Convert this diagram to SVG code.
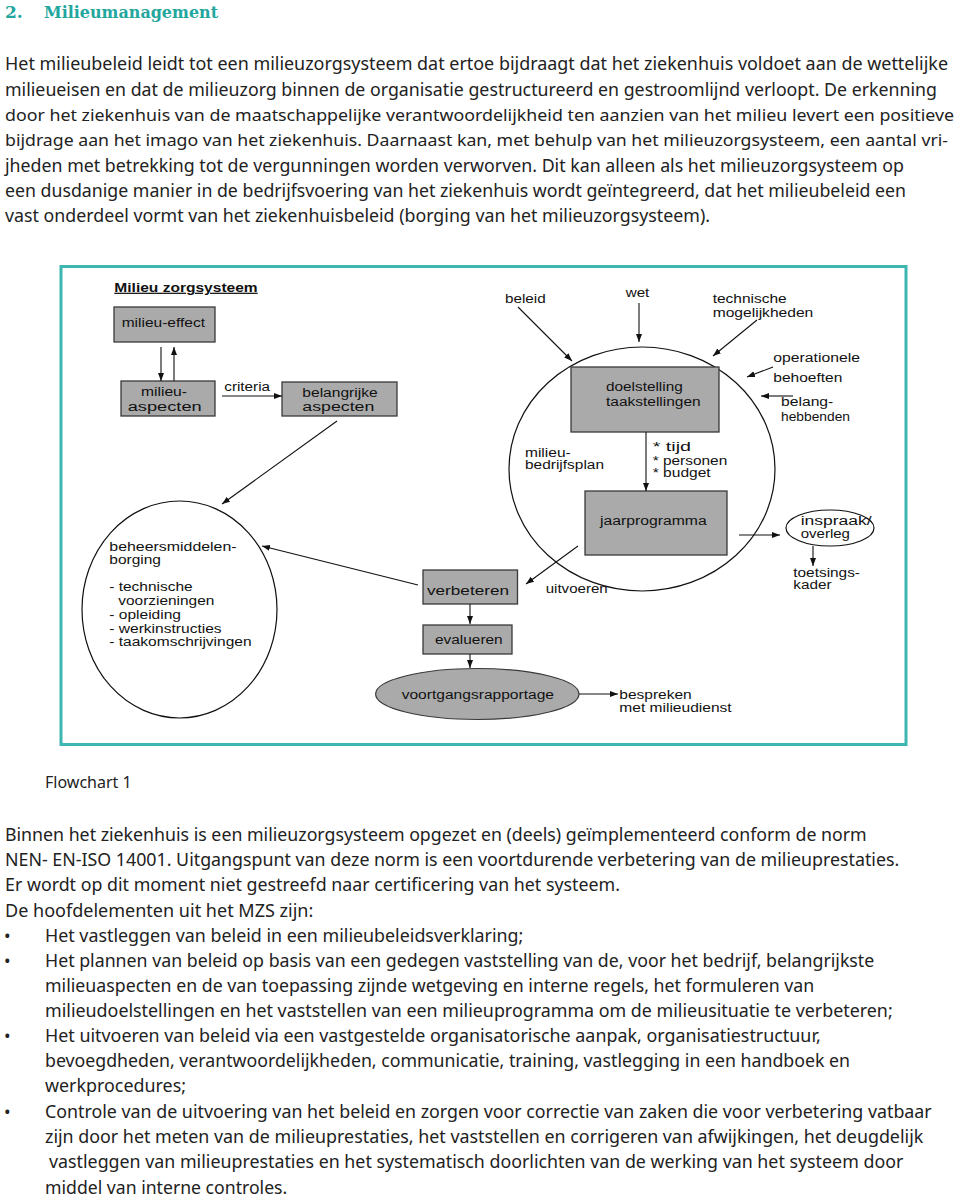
<svg xmlns="http://www.w3.org/2000/svg" width="960" height="1203" viewBox="0 0 960 1203">
<defs>
<style>
.body{font-family:"Noto Sans","Open Sans",sans-serif;font-size:17.5px;fill:#222}
.title{font-family:"DejaVu Serif",serif;font-weight:bold;font-size:17px;fill:#22a69e}
.lbl{font-family:"Liberation Sans",Arial,sans-serif;font-size:12.5px;fill:#111}
.box{fill:#aaaaaa;stroke:#3a3a3a;stroke-width:1.3}
.ring{fill:none;stroke:#111;stroke-width:1.2}
.con{fill:none;stroke:#111;stroke-width:1.1;marker-end:url(#ah)}
</style>
<marker id="ah" markerUnits="userSpaceOnUse" markerWidth="9" markerHeight="7" refX="8" refY="3" orient="auto">
<path d="M0,0 L8,3 L0,6 z" fill="#111"/>
</marker>
</defs>
<rect width="960" height="1203" fill="#fff"/>

<g id="heading">
<text class="title" x="5" y="18">2.</text>
<text class="title" x="44" y="18" textLength="174" lengthAdjust="spacingAndGlyphs">Milieumanagement</text>
</g>

<g id="intro" class="body">
<text x="5" y="70" textLength="943" lengthAdjust="spacingAndGlyphs">Het milieubeleid leidt tot een milieuzorgsysteem dat ertoe bijdraagt dat het ziekenhuis voldoet aan de wettelijke</text>
<text x="5" y="95.5" textLength="932" lengthAdjust="spacingAndGlyphs">milieueisen en dat de milieuzorg binnen de organisatie gestructureerd en gestroomlijnd verloopt. De erkenning</text>
<text x="5" y="120.8" font-size="17" textLength="949" lengthAdjust="spacingAndGlyphs">door het ziekenhuis van de maatschappelijke verantwoordelijkheid ten aanzien van het milieu levert een positieve</text>
<text x="5" y="146" font-size="17" textLength="943" lengthAdjust="spacingAndGlyphs">bijdrage aan het imago van het ziekenhuis. Daarnaast kan, met behulp van het milieuzorgsysteem, een aantal vri-</text>
<text x="5" y="171.5" textLength="899" lengthAdjust="spacingAndGlyphs">jheden met betrekking tot de vergunningen worden verworven. Dit kan alleen als het milieuzorgsysteem op</text>
<text x="5" y="196.8" textLength="901" lengthAdjust="spacingAndGlyphs">een dusdanige manier in de bedrijfsvoering van het ziekenhuis wordt geïntegreerd, dat het milieubeleid een</text>
<text x="5" y="222" textLength="705" lengthAdjust="spacingAndGlyphs">vast onderdeel vormt van het ziekenhuisbeleid (borging van het milieuzorgsysteem).</text>
</g>

<rect id="frame" x="61" y="266.5" width="845" height="478" fill="none" stroke="#3db5b0" stroke-width="3"/>

<g id="diagram-title">
<text class="lbl" x="114.3" y="291.7" font-weight="bold" text-decoration="underline" textLength="143.4" lengthAdjust="spacingAndGlyphs">Milieu zorgsysteem</text>
</g>

<g id="planning-circle"><ellipse class="ring" cx="642" cy="469" rx="133" ry="122"/></g>
<g id="beheer-circle">
<ellipse class="ring" cx="179.5" cy="609.5" rx="97.5" ry="108.5"/>
<text class="lbl" x="109.3" y="550.7" textLength="127.3" lengthAdjust="spacingAndGlyphs">beheersmiddelen-</text>
<text class="lbl" x="109.3" y="564" textLength="51.7" lengthAdjust="spacingAndGlyphs">borging</text>
<text class="lbl" x="109.3" y="591.3" textLength="83.3" lengthAdjust="spacingAndGlyphs">- technische</text>
<text class="lbl" x="118.3" y="605" textLength="96" lengthAdjust="spacingAndGlyphs">voorzieningen</text>
<text class="lbl" x="109.3" y="619" textLength="71.7" lengthAdjust="spacingAndGlyphs">- opleiding</text>
<text class="lbl" x="109.3" y="632.7" textLength="112.3" lengthAdjust="spacingAndGlyphs">- werkinstructies</text>
<text class="lbl" x="109.3" y="646.3" textLength="142.3" lengthAdjust="spacingAndGlyphs">- taakomschrijvingen</text>
</g>

<g id="milieu-effect">
<rect class="box" x="114" y="307" width="101" height="35"/>
<text class="lbl" x="121.7" y="327" textLength="83.3" lengthAdjust="spacingAndGlyphs">milieu-effect</text>
</g>
<g id="milieu-aspecten">
<rect class="box" x="121" y="381" width="94" height="35"/>
<text class="lbl" x="141" y="395.7" textLength="46" lengthAdjust="spacingAndGlyphs">milieu-</text>
<text class="lbl" x="127.7" y="410.7" textLength="74" lengthAdjust="spacingAndGlyphs">aspecten</text>
</g>
<g id="belangrijke-aspecten">
<rect class="box" x="282" y="382" width="115" height="34"/>
<text class="lbl" x="302.3" y="396.5" textLength="75.4" lengthAdjust="spacingAndGlyphs">belangrijke</text>
<text class="lbl" x="302.3" y="411" textLength="72" lengthAdjust="spacingAndGlyphs">aspecten</text>
</g>
<g id="doelstelling">
<rect class="box" x="571" y="367" width="148" height="65"/>
<text class="lbl" x="606" y="391" textLength="76.7" lengthAdjust="spacingAndGlyphs">doelstelling</text>
<text class="lbl" x="606" y="406" textLength="94.7" lengthAdjust="spacingAndGlyphs">taakstellingen</text>
</g>
<g id="jaarprogramma">
<rect class="box" x="585" y="491" width="142" height="64"/>
<text class="lbl" x="600" y="525" textLength="106.7" lengthAdjust="spacingAndGlyphs">jaarprogramma</text>
</g>
<g id="inspraak">
<ellipse cx="830" cy="528" rx="44" ry="18" fill="#fff" stroke="#111" stroke-width="1.2"/>
<text class="lbl" x="800.7" y="525" textLength="71" lengthAdjust="spacingAndGlyphs">inspraak/</text>
<text class="lbl" x="800.7" y="538.3" textLength="49.3" lengthAdjust="spacingAndGlyphs">overleg</text>
</g>
<g id="verbeteren">
<rect class="box" x="423" y="570" width="94.5" height="34"/>
<text class="lbl" x="427" y="595" textLength="82" lengthAdjust="spacingAndGlyphs">verbeteren</text>
</g>
<g id="evalueren">
<rect class="box" x="423" y="625" width="89" height="29"/>
<text class="lbl" x="435" y="644.3" textLength="67.7" lengthAdjust="spacingAndGlyphs">evalueren</text>
</g>
<g id="voortgangsrapportage">
<ellipse cx="477.3" cy="694" rx="101.7" ry="25.5" fill="#aaaaaa" stroke="#3a3a3a" stroke-width="1.2"/>
<text class="lbl" x="401.7" y="699" textLength="152.3" lengthAdjust="spacingAndGlyphs">voortgangsrapportage</text>
</g>

<g id="labels" class="lbl">
<text x="224.3" y="390.7" textLength="45.7" lengthAdjust="spacingAndGlyphs">criteria</text>
<text x="505" y="302.7" textLength="40.7" lengthAdjust="spacingAndGlyphs">beleid</text>
<text x="625.7" y="297.3" textLength="23.6" lengthAdjust="spacingAndGlyphs">wet</text>
<text x="712.7" y="302.7" textLength="74" lengthAdjust="spacingAndGlyphs">technische</text>
<text x="712.7" y="317.3" textLength="100.6" lengthAdjust="spacingAndGlyphs">mogelijkheden</text>
<text x="773.3" y="361.7" textLength="86.7" lengthAdjust="spacingAndGlyphs">operationele</text>
<text x="773.3" y="381.7" textLength="69" lengthAdjust="spacingAndGlyphs">behoeften</text>
<text x="781" y="405.7" textLength="52.3" lengthAdjust="spacingAndGlyphs">belang-</text>
<text x="781" y="420.7" textLength="69" lengthAdjust="spacingAndGlyphs">hebbenden</text>
<text x="525" y="456.7" textLength="45.7" lengthAdjust="spacingAndGlyphs">milieu-</text>
<text x="525" y="469.3" textLength="79" lengthAdjust="spacingAndGlyphs">bedrijfsplan</text>
<text x="652.7" y="450.7" textLength="38.3" lengthAdjust="spacingAndGlyphs">* tijd</text>
<text x="652.7" y="464.7" textLength="74.6" lengthAdjust="spacingAndGlyphs">* personen</text>
<text x="652.7" y="477" textLength="58" lengthAdjust="spacingAndGlyphs">* budget</text>
<text x="793.3" y="577" textLength="66.7" lengthAdjust="spacingAndGlyphs">toetsings-</text>
<text x="793.3" y="589" textLength="38.4" lengthAdjust="spacingAndGlyphs">kader</text>
<text x="545.7" y="593.3" textLength="62" lengthAdjust="spacingAndGlyphs">uitvoeren</text>
<text x="619.3" y="699" textLength="72.4" lengthAdjust="spacingAndGlyphs">bespreken</text>
<text x="619.3" y="711.7" textLength="112.4" lengthAdjust="spacingAndGlyphs">met milieudienst</text>
</g>

<g id="connectors">
<line class="con" x1="161" y1="347" x2="161" y2="381"/>
<line class="con" x1="174" y1="381" x2="174" y2="347"/>
<line class="con" x1="222" y1="396" x2="282" y2="396"/>
<line class="con" x1="337" y1="421" x2="222" y2="504"/>
<line class="con" x1="518" y1="307" x2="572" y2="361"/>
<line class="con" x1="639" y1="303" x2="639" y2="342"/>
<line class="con" x1="757" y1="320" x2="713" y2="356"/>
<line class="con" x1="773" y1="367" x2="747" y2="377"/>
<line class="con" x1="793" y1="396" x2="761" y2="396"/>
<line class="con" x1="646" y1="432" x2="646" y2="491"/>
<line class="con" x1="739" y1="535" x2="780" y2="535"/>
<line class="con" x1="813" y1="546" x2="813" y2="566"/>
<line class="con" x1="578" y1="546" x2="526" y2="584"/>
<line class="con" x1="418" y1="585" x2="262" y2="546"/>
<line class="con" x1="470" y1="604" x2="470" y2="624"/>
<line class="con" x1="470" y1="654" x2="470" y2="668"/>
<line class="con" x1="579" y1="694" x2="618" y2="694"/>
</g>

<g id="caption" class="body">
<text x="45" y="788.3" font-size="17" textLength="86.7" lengthAdjust="spacingAndGlyphs">Flowchart 1</text>
</g>

<g id="outro" class="body">
<text x="5" y="841" textLength="861.7" lengthAdjust="spacingAndGlyphs">Binnen het ziekenhuis is een milieuzorgsysteem opgezet en (deels) geïmplementeerd conform de norm</text>
<text x="5" y="866" textLength="894.3" lengthAdjust="spacingAndGlyphs">NEN- EN-ISO 14001. Uitgangspunt van deze norm is een voortdurende verbetering van de milieuprestaties.</text>
<text x="5" y="891" textLength="615" lengthAdjust="spacingAndGlyphs">Er wordt op dit moment niet gestreefd naar certificering van het systeem.</text>
<text x="5" y="916.7" textLength="308.3" lengthAdjust="spacingAndGlyphs">De hoofdelementen uit het MZS zijn:</text>
<text x="4" y="941.7">•</text>
<text x="45" y="941.7" textLength="478.3" lengthAdjust="spacingAndGlyphs">Het vastleggen van beleid in een milieubeleidsverklaring;</text>
<text x="4" y="966.7">•</text>
<text x="45" y="966.7" textLength="829.3" lengthAdjust="spacingAndGlyphs">Het plannen van beleid op basis van een gedegen vaststelling van de, voor het bedrijf, belangrijkste</text>
<text x="45" y="991.7" textLength="769.3" lengthAdjust="spacingAndGlyphs">milieuaspecten en de van toepassing zijnde wetgeving en interne regels, het formuleren van</text>
<text x="45" y="1016.7" textLength="847.7" lengthAdjust="spacingAndGlyphs">milieudoelstellingen en het vaststellen van een milieuprogramma om de milieusituatie te verbeteren;</text>
<text x="4" y="1041.7">•</text>
<text x="45" y="1041.7" textLength="775.7" lengthAdjust="spacingAndGlyphs">Het uitvoeren van beleid via een vastgestelde organisatorische aanpak, organisatiestructuur,</text>
<text x="45" y="1066.8" textLength="805" lengthAdjust="spacingAndGlyphs">bevoegdheden, verantwoordelijkheden, communicatie, training, vastlegging in een handboek en</text>
<text x="45" y="1092.3" textLength="141" lengthAdjust="spacingAndGlyphs">werkprocedures;</text>
<text x="4" y="1118.3">•</text>
<text x="45" y="1118.3" textLength="886.7" lengthAdjust="spacingAndGlyphs">Controle van de uitvoering van het beleid en zorgen voor correctie van zaken die voor verbetering vatbaar</text>
<text x="45" y="1143.3" textLength="878.3" lengthAdjust="spacingAndGlyphs">zijn door het meten van de milieuprestaties, het vaststellen en corrigeren van afwijkingen, het deugdelijk</text>
<text x="49" y="1168.3" textLength="854.3" lengthAdjust="spacingAndGlyphs">vastleggen van milieuprestaties en het systematisch doorlichten van de werking van het systeem door</text>
<text x="45" y="1193.5" textLength="242.3" lengthAdjust="spacingAndGlyphs">middel van interne controles.</text>
</g>
</svg>
